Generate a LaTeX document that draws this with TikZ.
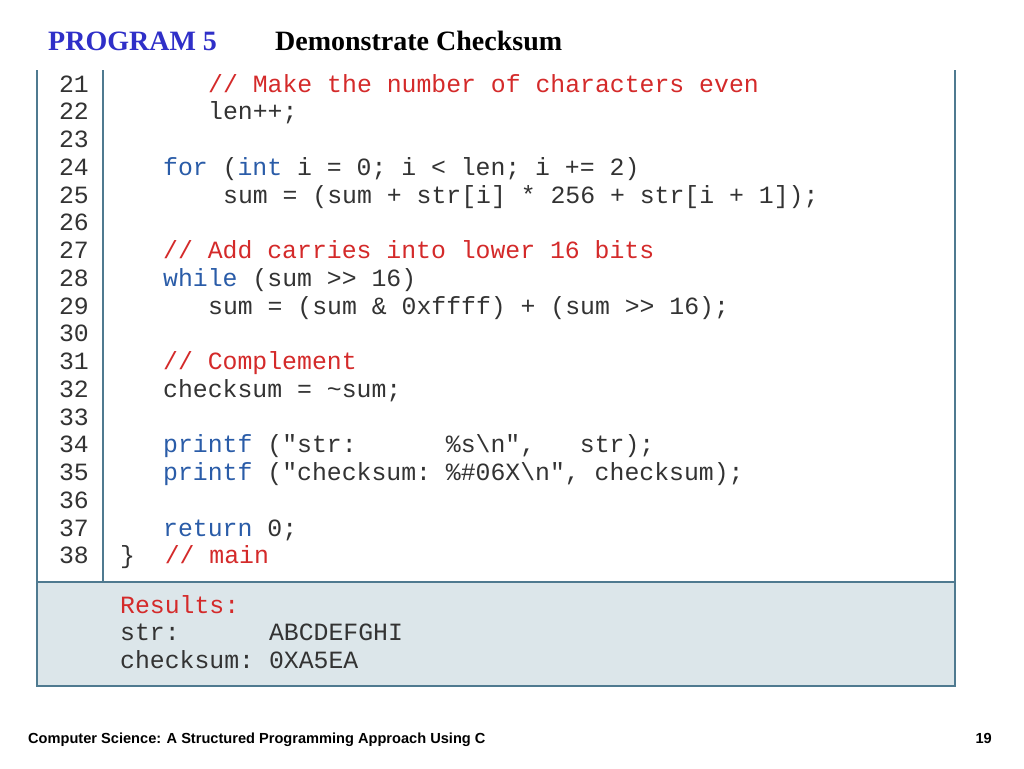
\documentclass[tikz,border=0pt]{standalone}
\usepackage{fontspec}
\setmainfont{Liberation Serif}
\setsansfont{Liberation Sans}
\setmonofont{Liberation Mono}
\definecolor{kw}{HTML}{2A5CA8}
\definecolor{cm}{HTML}{D42A2A}
\definecolor{tx}{HTML}{333333}
\definecolor{bd}{HTML}{4F7A90}
\definecolor{res}{HTML}{DCE6EA}
\definecolor{ttl}{HTML}{2F2FC8}
\newcommand{\K}[1]{\textcolor{kw}{#1}}
\newcommand{\C}[1]{\textcolor{cm}{#1}}
\begin{document}
\begin{tikzpicture}[x=1pt,y=-1pt,
  code/.style={anchor=base west,inner sep=0pt,font=\ttfamily\fontsize{24.8}{26}\selectfont,text=tx},
  lnum/.style={anchor=base,inner sep=0pt,font=\ttfamily\fontsize{24.8}{26}\selectfont,text=tx}]
\useasboundingbox (0,0) rectangle (1024,768);
\fill[white] (0,0) rectangle (1024,768);
\fill[res] (37,582) rectangle (955,686);
\draw[bd,line width=1.2pt] (37,70) -- (37,686) -- (955,686) -- (955,70);
\draw[bd,line width=1.2pt] (37,582) -- (955,582);
\draw[bd,line width=1.2pt] (103,70) -- (103,582);
\node[anchor=base west,inner sep=0pt,font=\bfseries\fontsize{28}{30}\selectfont,text=ttl] (t1) at (48,50) {PROGRAM 5};
\node[anchor=base west,inner sep=0pt,font=\bfseries\fontsize{28}{30}\selectfont] (t2) at (275,50) {Demonstrate Checksum};
\foreach \n in {21,...,38}{
  \node[lnum] (n\n) at (74,{92+27.76*(\n-21)}) {\n};
}
\newcommand{\ly}[1]{{92+27.76*(#1-21)}}
\node[code] (c21) at (208,\ly{21}) {\C{// Make the number of characters even}};
\node[code] (c22) at (208,\ly{22}) {len++;};
\node[code] (c24) at (163,\ly{24}) {\K{for} (\K{int} i = 0; i < len; i += 2)};
\node[code] (c25) at (223,\ly{25}) {sum = (sum + str[i] * 256 + str[i + 1]);};
\node[code] (c27) at (163,\ly{27}) {\C{// Add carries into lower 16 bits}};
\node[code] (c28) at (163,\ly{28}) {\K{while} (sum >> 16)};
\node[code] (c29) at (208,\ly{29}) {sum = (sum \& 0xffff) + (sum >> 16);};
\node[code] (c31) at (163,\ly{31}) {\C{// Complement}};
\node[code] (c32) at (163,\ly{32}) {checksum = \textasciitilde sum;};
\node[code] (c34) at (163,\ly{34}) {\K{printf} ("str:\ \ \ \ \ \ \%s\textbackslash n",\ \ \ str);};
\node[code] (c35) at (163,\ly{35}) {\K{printf} ("checksum: \%\#06X\textbackslash n", checksum);};
\node[code] (c37) at (163,\ly{37}) {\K{return} 0;};
\node[code] (c38) at (120,\ly{38}) {\}\ \ \C{// main}};
\node[code] (r1) at (120,613) {\C{Results:}};
\node[code] (r2) at (120,640) {str:\ \ \ \ \ \ ABCDEFGHI};
\node[code] (r3) at (120,668) {checksum: 0XA5EA};
\node[anchor=base west,inner sep=0pt,font=\sffamily\bfseries\fontsize{14.6}{16}\selectfont] (f1) at (28,743) {Computer Science: A Structured Programming Approach Using C};
\node[anchor=base east,inner sep=0pt,font=\sffamily\bfseries\fontsize{14.6}{16}\selectfont] (f2) at (992,743) {19};
\end{tikzpicture}
\end{document}
